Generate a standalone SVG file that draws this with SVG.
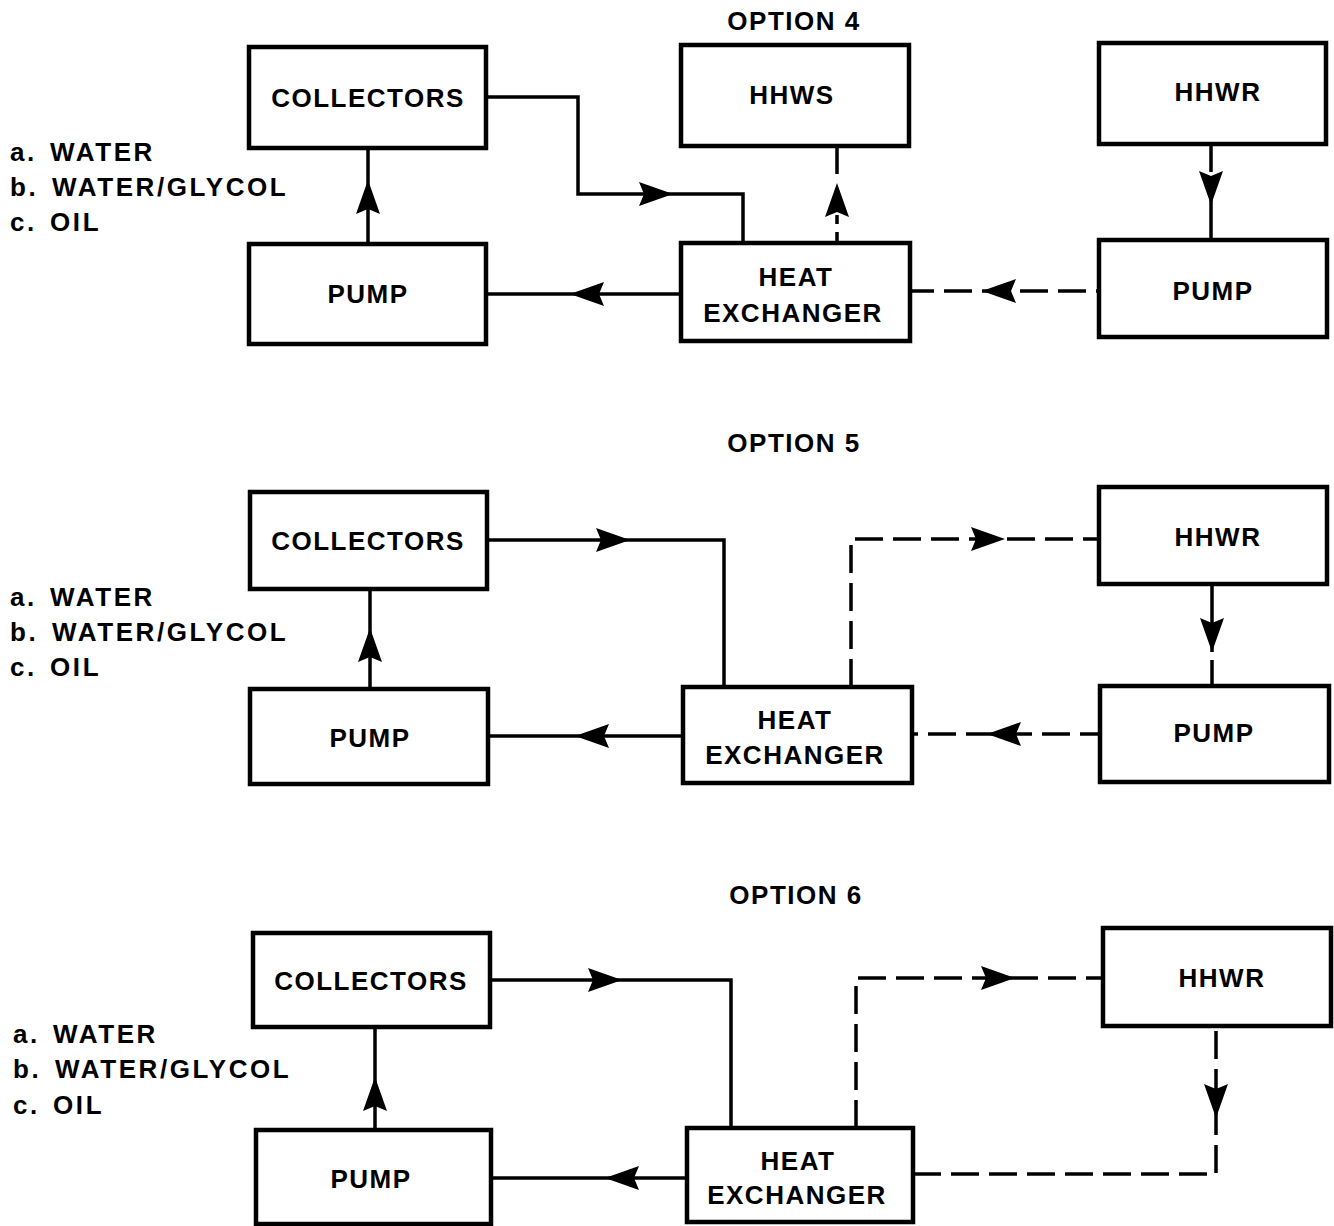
<svg xmlns="http://www.w3.org/2000/svg" xmlns:xlink="http://www.w3.org/1999/xlink" width="1334" height="1226" viewBox="0 0 1334 1226">
<style>
.box{fill:#fff;stroke:#000;stroke-width:4.5}
.lbl{font-family:"Liberation Sans",Arial,sans-serif;font-weight:bold;font-size:26px;letter-spacing:1.5px;fill:#000;text-anchor:middle}
.side{font-family:"Liberation Sans",Arial,sans-serif;font-weight:bold;font-size:26px;letter-spacing:2.6px;fill:#000}
.ln{fill:none;stroke:#000;stroke-width:3.5}
.dash{fill:none;stroke:#000;stroke-width:3.5;stroke-dasharray:28 10}
</style>
<defs>
<path id="ah" d="M0,0 L-34,-12 L-29,0 L-34,12 Z" fill="#000"/>
</defs>
<rect width="1334" height="1226" fill="#fff"/>

<g id="titles">
<text class="lbl" x="794" y="30">OPTION 4</text>
<text class="lbl" x="794" y="452">OPTION 5</text>
<text class="lbl" x="796" y="904">OPTION 6</text>
</g>

<g id="sidelabels">
<text class="side" x="10" y="161">a.<tspan x="50">WATER</tspan></text>
<text class="side" x="10" y="196">b.<tspan x="52">WATER/GLYCOL</tspan></text>
<text class="side" x="10" y="231">c.<tspan x="50">OIL</tspan></text>
<text class="side" x="10" y="606">a.<tspan x="50">WATER</tspan></text>
<text class="side" x="10" y="641">b.<tspan x="52">WATER/GLYCOL</tspan></text>
<text class="side" x="10" y="676">c.<tspan x="50">OIL</tspan></text>
<text class="side" x="13" y="1043">a.<tspan x="53">WATER</tspan></text>
<text class="side" x="13" y="1078">b.<tspan x="55">WATER/GLYCOL</tspan></text>
<text class="side" x="13" y="1114">c.<tspan x="53">OIL</tspan></text>
</g>

<g id="connectors">
<!-- option 4 -->
<path class="ln" d="M486,97 H578 V194 H743 V243"/>
<use xlink:href="#ah" transform="translate(673,194)"/>
<path class="ln" d="M368,244 V148"/>
<use xlink:href="#ah" transform="translate(368,180) rotate(-90)"/>
<path class="ln" d="M681,294 H486"/>
<use xlink:href="#ah" transform="translate(570,294) rotate(180)"/>
<path class="ln" d="M837,243 V232 M837,224 V215 M837,174 V146"/>
<use xlink:href="#ah" transform="translate(837,183) rotate(-90)"/>
<path class="dash" d="M1211,144 V200"/>
<path class="ln" d="M1211,200 V240"/>
<use xlink:href="#ah" transform="translate(1211,205) rotate(90)"/>
<path class="dash" d="M910,291 H1099" style="stroke-dashoffset:4"/>
<use xlink:href="#ah" transform="translate(982,291) rotate(180)"/>

<!-- option 5 -->
<path class="ln" d="M487,540 H724 V687"/>
<use xlink:href="#ah" transform="translate(630,540)"/>
<path class="ln" d="M370,689 V589"/>
<use xlink:href="#ah" transform="translate(370,628) rotate(-90)"/>
<path class="ln" d="M683,736 H488"/>
<use xlink:href="#ah" transform="translate(575,736) rotate(180)"/>
<path class="dash" d="M851,687 V539 H1099"/>
<use xlink:href="#ah" transform="translate(1005,539)"/>
<path class="ln" d="M1212,584 V652 M1212,660 V686"/>
<use xlink:href="#ah" transform="translate(1212,652) rotate(90)"/>
<path class="dash" d="M1100,734 H912" style="stroke-dashoffset:8"/>
<use xlink:href="#ah" transform="translate(987,734) rotate(180)"/>

<!-- option 6 -->
<path class="ln" d="M490,980 H731 V1128"/>
<use xlink:href="#ah" transform="translate(622,980)"/>
<path class="ln" d="M375,1130 V1027"/>
<use xlink:href="#ah" transform="translate(375,1077) rotate(-90)"/>
<path class="ln" d="M687,1178 H491"/>
<use xlink:href="#ah" transform="translate(605,1178) rotate(180)"/>
<path class="dash" d="M856,1128 V978 H1103"/>
<use xlink:href="#ah" transform="translate(1015,978)"/>
<path class="dash" d="M913,1174 H1216 V1026"/>
<use xlink:href="#ah" transform="translate(1216,1118) rotate(90)"/>
</g>

<!-- option 4 nodes -->
<g id="collectors4"><rect class="box" x="249" y="47" width="237" height="101"/><text class="lbl" x="368" y="107">COLLECTORS</text></g>
<g id="pump4L"><rect class="box" x="249" y="244" width="237" height="100"/><text class="lbl" x="368" y="303">PUMP</text></g>
<g id="hhws4"><rect class="box" x="681" y="45" width="228" height="101"/><text class="lbl" x="792" y="104">HHWS</text></g>
<g id="hx4"><rect class="box" x="681" y="243" width="229" height="98"/><text class="lbl" x="796" y="286">HEAT</text><text class="lbl" x="793" y="322">EXCHANGER</text></g>
<g id="hhwr4"><rect class="box" x="1099" y="43" width="227" height="101"/><text class="lbl" x="1218" y="101">HHWR</text></g>
<g id="pump4R"><rect class="box" x="1099" y="240" width="228" height="97"/><text class="lbl" x="1213" y="300">PUMP</text></g>

<!-- option 5 nodes -->
<g id="collectors5"><rect class="box" x="250" y="492" width="237" height="97"/><text class="lbl" x="368" y="550">COLLECTORS</text></g>
<g id="pump5L"><rect class="box" x="250" y="689" width="238" height="95"/><text class="lbl" x="370" y="747">PUMP</text></g>
<g id="hx5"><rect class="box" x="683" y="687" width="229" height="96"/><text class="lbl" x="795" y="729">HEAT</text><text class="lbl" x="795" y="764">EXCHANGER</text></g>
<g id="hhwr5"><rect class="box" x="1099" y="487" width="228" height="97"/><text class="lbl" x="1218" y="546">HHWR</text></g>
<g id="pump5R"><rect class="box" x="1100" y="686" width="229" height="96"/><text class="lbl" x="1214" y="742">PUMP</text></g>

<!-- option 6 nodes -->
<g id="collectors6"><rect class="box" x="253" y="933" width="237" height="94"/><text class="lbl" x="371" y="990">COLLECTORS</text></g>
<g id="pump6L"><rect class="box" x="256" y="1130" width="235" height="94"/><text class="lbl" x="371" y="1188">PUMP</text></g>
<g id="hx6"><rect class="box" x="687" y="1128" width="226" height="94"/><text class="lbl" x="798" y="1170">HEAT</text><text class="lbl" x="797" y="1204">EXCHANGER</text></g>
<g id="hhwr6"><rect class="box" x="1103" y="928" width="228" height="98"/><text class="lbl" x="1222" y="987">HHWR</text></g>
</svg>
